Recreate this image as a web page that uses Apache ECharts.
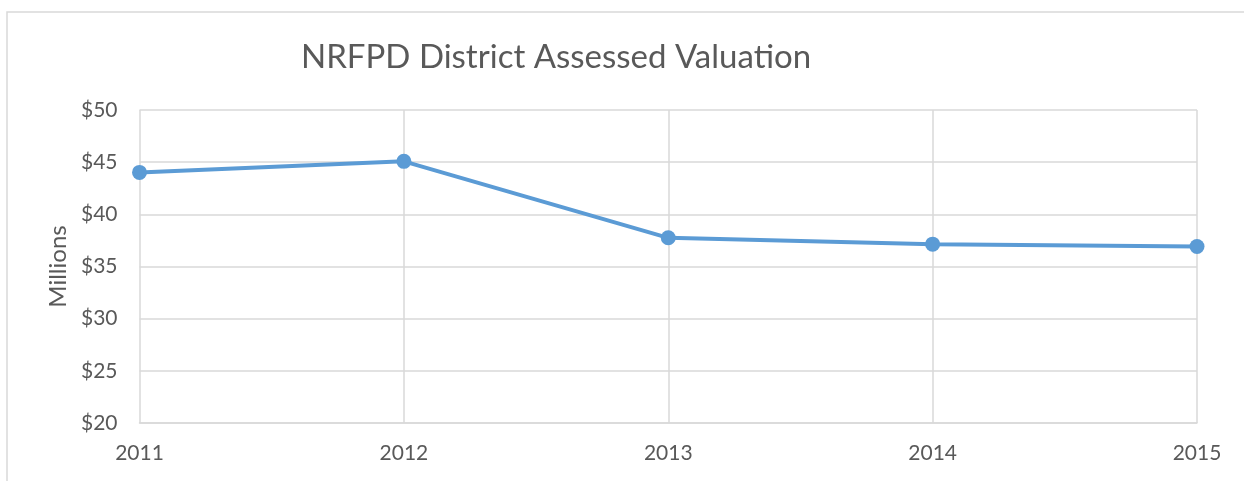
<!DOCTYPE html>
<html>
<head>
<meta charset="utf-8">
<script src="https://cdn.jsdelivr.net/npm/echarts@6/dist/echarts.min.js"></script>
<style>
	html, body { margin: 0; padding: 0; background: #fff; }
	#chart { width: 1244px; height: 481px; }
</style>
</head>
<body>
<div id="chart"></div>
<script>
	// years on the x axis
	var years = ['2011', '2012', '2013', '2014', '2015'];
	// assessed valuation, millions of dollars
	var valuation = [44.02, 45.08, 37.75, 37.14, 36.92];

	var chart = echarts.init(document.getElementById('chart'));

	var option = {
		backgroundColor: '#fff',
		animation: false,
		title: {
			text: 'NRFPD District Assessed Valuation',
			left: 296,
			top: 36,
			textStyle: {
				fontFamily: 'Lato',
				fontSize: 33,
				fontWeight: 'normal',
				color: '#595959'
			}
		},
		graphic: [{
			type: 'rect',
			shape: { x: 7, y: 12, width: 1300, height: 500 },
			style: { fill: 'none', stroke: '#d9d9d9', lineWidth: 1.5 },
			silent: true
		}],
		grid: {
			left: 139.5,
			right: 47,
			top: 110,
			bottom: 58
		},
		xAxis: {
			type: 'category',
			data: years,
			boundaryGap: false,
			axisLine: { lineStyle: { color: '#d9d9d9', width: 1.5 } },
			axisTick: { show: false },
			splitLine: { show: true, lineStyle: { color: '#d9d9d9', width: 1.5 } },
			axisLabel: {
				margin: 20,
				fontFamily: 'Lato',
				fontSize: 21,
				color: '#595959'
			}
		},
		yAxis: {
			type: 'value',
			min: 20,
			max: 50,
			interval: 5,
			name: 'Millions',
			nameLocation: 'middle',
			nameRotate: 90,
			nameGap: 59,
			nameTextStyle: {
				fontFamily: 'Lato',
				fontSize: 24,
				color: '#595959'
			},
			axisLine: { show: false },
			axisTick: { show: false },
			splitLine: { lineStyle: { color: '#d9d9d9', width: 1.5 } },
			axisLabel: {
				margin: 22,
				fontFamily: 'Lato',
				fontSize: 21,
				color: '#595959',
				formatter: '${value}'
			}
		},
		series: [{
			name: 'Valuation',
			type: 'line',
			data: valuation,
			symbol: 'circle',
			symbolSize: 15,
			lineStyle: { color: '#5b9bd5', width: 4 },
			itemStyle: { color: '#5b9bd5' }
		}]
	};

	chart.setOption(option);
</script>
</body>
</html>
